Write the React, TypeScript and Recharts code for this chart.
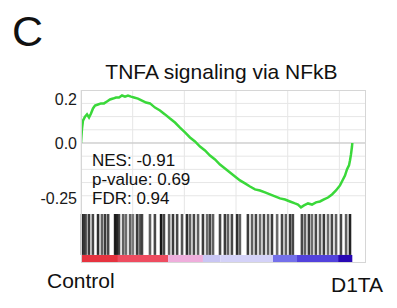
import React from 'react';
import { LineChart, ComposedChart, Line, XAxis, YAxis, CartesianGrid, ReferenceLine, ReferenceArea } from 'recharts';

const panelLabel = 'C';
const title = 'TNFA signaling via NFkB';
const statsLines = ['NES: -0.91', 'p-value: 0.69', 'FDR: 0.94'];
const leftLabel = 'Control';
const rightLabel = 'D1TA';

const ranks = [0, 19, 39, 77, 155, 232, 310, 387, 464, 542, 658, 774, 890, 1006, 1122, 1238, 1355, 1471, 1587, 1703, 1819, 1935, 2051, 2206, 2361, 2516, 2670, 2864, 3057, 3251, 3444, 3638, 3831, 4025, 4218, 4412, 4605, 4799, 4992, 5186, 5379, 5573, 5766, 5960, 6153, 6347, 6540, 6734, 6927, 7121, 7314, 7508, 7701, 7895, 8088, 8282, 8398, 8514, 8630, 8785, 8940, 9094, 9249, 9404, 9559, 9714, 9868, 10023, 10139, 10217, 10294, 10333, 10372, 10410, 10449, 10488, 10500];
const enrichment = [0, 0.034, 0.066, 0.102, 0.12, 0.13, 0.116, 0.134, 0.157, 0.17, 0.175, 0.18, 0.18, 0.189, 0.198, 0.202, 0.207, 0.207, 0.216, 0.211, 0.216, 0.211, 0.207, 0.202, 0.193, 0.184, 0.18, 0.161, 0.148, 0.13, 0.111, 0.093, 0.07, 0.048, 0.025, 0.007, -0.016, -0.034, -0.057, -0.075, -0.098, -0.116, -0.134, -0.152, -0.17, -0.184, -0.198, -0.211, -0.216, -0.225, -0.234, -0.243, -0.252, -0.257, -0.266, -0.275, -0.28, -0.293, -0.284, -0.275, -0.28, -0.27, -0.266, -0.257, -0.248, -0.234, -0.216, -0.193, -0.166, -0.148, -0.12, -0.111, -0.102, -0.08, -0.052, -0.016, 0];

const yTicks = [0.2, 0, -0.25];
const gridValues = [0.18, 0.12, 0.06, 0, -0.06, -0.12, -0.18, -0.24];
const rankTicks = [0, 2000, 4000, 6000, 8000, 10000];
const rankDomain = [0, 11030];
const esDomain = [-0.323, 0.241];

const hitRanks = [40, 120, 190, 310, 460, 660, 810, 930, 1050, 1320, 1390, 1470, 1630, 1740, 1900, 2010, 2170, 2280, 2360, 2670, 2860, 3100, 3210, 3410, 3560, 3720, 3910, 4100, 4220, 4370, 4530, 4720, 4880, 4990, 5110, 5380, 5570, 5690, 5840, 6040, 6150, 6460, 6620, 6770, 6930, 7080, 7240, 7390, 7590, 7780, 7930, 8090, 8200, 8550, 8670, 8820, 8940, 9090, 9250, 9400, 9560, 9710, 9870, 10060, 10260, 10410];
const hitShades = [0.85, 0.75, 0.65, 0.8, 0.75, 0.85, 0.65, 0.8, 0.75, 0.9, 0.85, 0.75, 0.65, 0.6, 0.65, 0.55, 0.8, 0.65, 0.75, 0.65, 0.75, 0.95, 0.75, 0.65, 0.8, 0.75, 0.7, 0.85, 0.65, 0.75, 0.65, 0.8, 0.6, 0.75, 0.65, 0.75, 0.8, 0.65, 0.75, 0.85, 0.65, 0.8, 0.65, 0.75, 0.6, 0.75, 0.65, 0.8, 0.6, 0.75, 0.65, 0.8, 0.75, 0.75, 0.65, 0.8, 0.6, 0.75, 0.65, 0.8, 0.6, 0.75, 0.65, 0.75, 0.65, 0.9];

const bandStarts = [0, 1430, 3370, 4720, 5400, 7430, 8360, 9950];
const bandEnds = [1430, 3370, 4720, 5400, 7430, 8360, 9950, 10500];
const bandColors = ['#e6333f', '#ee4c60', '#efaedc', '#c9c6f4', '#d4d2f8', '#7470ea', '#5242dc', '#2808b4'];

const esData = ranks.map((r, i) => ({ rank: r, es: enrichment[i] }));
const hitData = hitRanks.map((r, i) => ({ rank: r, shade: hitShades[i] }));

const FONT = '"Liberation Sans", Arial, Helvetica, sans-serif';
const W = 397;
const H = 308;
const bandTop = 0.165;

export default function App() {
  return (
    <div style={{ position: 'absolute', left: 0, top: 0, width: W, height: H, background: '#fff', fontFamily: FONT }}>
      <div style={{ position: 'absolute', left: 0, top: 0 }}>
        <LineChart width={W} height={H} data={esData} margin={{ top: 90, right: 31, bottom: 94, left: 0 }}>
          <CartesianGrid
            stroke="#e6e6e6"
            horizontalValues={gridValues}
            verticalValues={rankTicks}
          />
          <XAxis dataKey="rank" type="number" domain={rankDomain} allowDataOverflow hide />
          <YAxis
            type="number"
            domain={esDomain}
            allowDataOverflow
            ticks={yTicks}
            interval={0}
            width={81}
            axisLine={false}
            tickLine={false}
            tickSize={0}
            tickMargin={4}
            tick={{ fontSize: 16, fill: '#1a1a1a', fontFamily: FONT }}
            tickFormatter={(v: number) => (v === 0 ? '0.0' : String(v))}
          />
          <ReferenceLine y={0} stroke="#c4c4c4" strokeWidth={1} />
          <Line type="linear" dataKey="es" stroke="#3ad83a" strokeWidth={2.5} dot={false} isAnimationActive={false} />
        </LineChart>
      </div>
      <div style={{ position: 'absolute', left: 0, top: 0 }}>
        <ComposedChart width={W} height={H} data={hitData} margin={{ top: 214, right: 31, bottom: 45, left: 81 }}>
          <XAxis dataKey="rank" type="number" domain={rankDomain} allowDataOverflow hide />
          <YAxis type="number" domain={[0, 1]} allowDataOverflow hide />
          {bandStarts.map((s, i) => (
            <ReferenceArea key={'b' + i} x1={s} x2={bandEnds[i]} y1={0} y2={bandTop} fill={bandColors[i]} fillOpacity={1} stroke="none" />
          ))}
          {hitData.map((h, i) => (
            <ReferenceLine
              key={'h' + i}
              segment={[{ x: h.rank, y: bandTop }, { x: h.rank, y: 1 }]}
              stroke="#0a0a0a"
              strokeOpacity={h.shade}
              strokeWidth={2.6}
            />
          ))}
        </ComposedChart>
      </div>
      <div style={{ position: 'absolute', left: 81, top: 90, width: 285, height: 173, border: '1px solid #d6d6d6', boxSizing: 'border-box', pointerEvents: 'none' }} />
      <svg width={W} height={H} style={{ position: 'absolute', left: 0, top: 0, pointerEvents: 'none' }}>
        <text x={12} y={46} fontSize={43} fontFamily={FONT} fill="#111">{panelLabel}</text>
        <text x={221.5} y={79} fontSize={21} fontFamily={FONT} fill="#111" textAnchor="middle">{title}</text>
        {statsLines.map((s, i) => (
          <text key={s} x={92} y={166 + i * 19} fontSize={17} fontFamily={FONT} fill="#111">{s}</text>
        ))}
        <text x={47} y={288} fontSize={21} fontFamily={FONT} fill="#111">{leftLabel}</text>
        <text x={331} y={292} fontSize={21} fontFamily={FONT} fill="#111">{rightLabel}</text>
      </svg>
    </div>
  );
}
